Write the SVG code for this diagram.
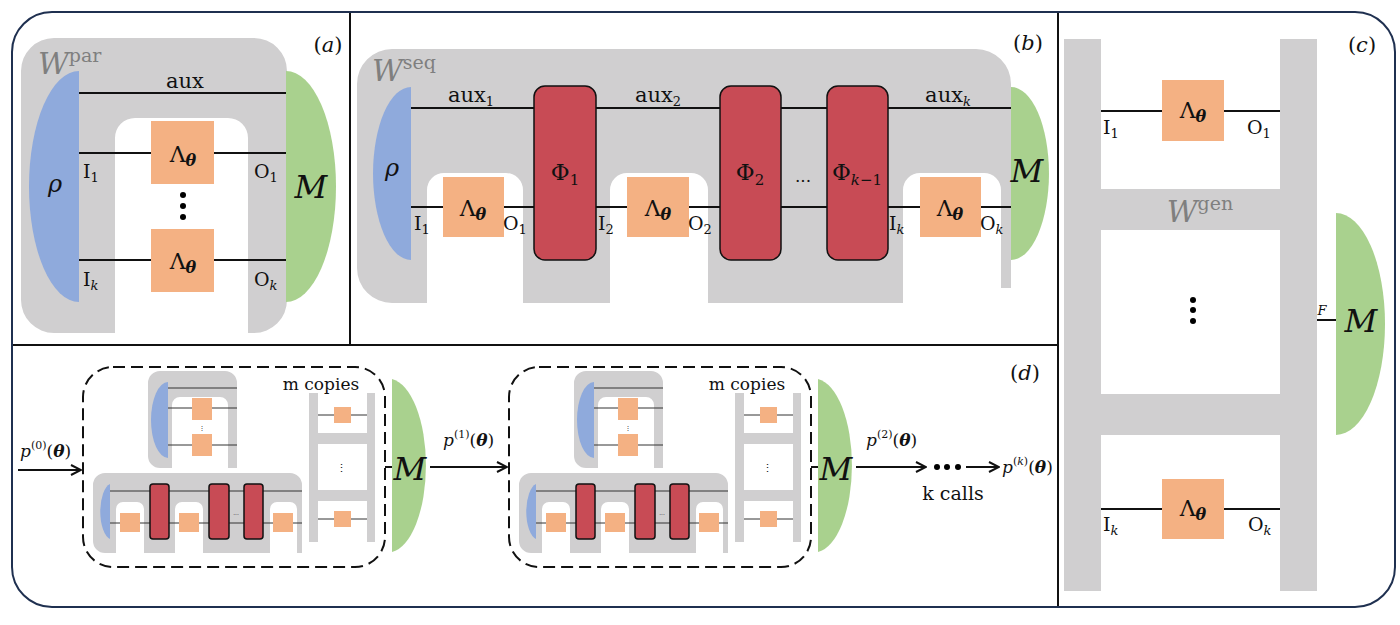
<svg xmlns="http://www.w3.org/2000/svg" xmlns:xlink="http://www.w3.org/1999/xlink" width="1400" height="625" viewBox="0 0 1400 625">
<style>
.g{fill:#d0cfd0}
.bl{fill:#8faadc}
.gr{fill:#a9d18e}
.or{fill:#f4b183}
.rd{fill:#c84b55;stroke:#111;stroke-width:1.5}
.w{stroke:#111;stroke-width:2;fill:none}
.wt{stroke:#333;stroke-width:1;fill:none}
.t{font-family:"DejaVu Serif","Liberation Serif",serif;fill:#111}
.i{font-style:italic}
.b{font-weight:bold;font-style:italic}
.W{font-family:"DejaVu Serif","Liberation Serif",serif;fill:#7f7f7f}
.fr{stroke:#111;stroke-width:2;fill:none}
</style>
<defs>
<marker id="ah" viewBox="0 0 12 12" refX="11" refY="6" markerWidth="12" markerHeight="12" markerUnits="userSpaceOnUse" orient="auto"><path d="M1,1 L11,6 L1,11" fill="none" stroke="#111" stroke-width="2"/></marker>
<g id="copy">
<rect x="83" y="367" width="302" height="200" rx="30" fill="none" stroke="#111" stroke-width="2" stroke-dasharray="12,6"/>
<path class="g" d="M148,383 A12,12 0 0 1 160,371 H225 A12,12 0 0 1 237,383 V468 H228 V405 A8,8 0 0 0 220,397 H180 A8,8 0 0 0 172,405 V468 H160 A12,12 0 0 1 148,456 Z"/>
<path class="bl" d="M168,382 A17,38 0 0 0 168,458 Z"/>
<path class="wt" d="M168,388 H237 M168,408 H237 M168,445 H237"/>
<rect class="or" x="192" y="398" width="20" height="22"/><rect class="or" x="192" y="434" width="20" height="22"/>
<text class="t" x="202" y="430" font-size="6" text-anchor="middle">⋮</text>
<path class="g" d="M93,485 A12,12 0 0 1 105,473 H290 A12,12 0 0 1 302,485 V553 H297 V509 A7,7 0 0 0 290,502 H277 A7,7 0 0 0 270,509 V553 H203 V509 A7,7 0 0 0 196,502 H182 A7,7 0 0 0 175,509 V553 H144 V509 A7,7 0 0 0 137,502 H123 A7,7 0 0 0 116,509 V553 H105 A12,12 0 0 1 93,541 Z"/>
<path class="bl" d="M110,484 A12,28 0 0 0 110,539 Z"/>
<path class="wt" d="M110,491 H302 M110,523 H302"/>
<rect class="rd" x="150" y="484" width="19" height="55" rx="3"/><rect class="rd" x="209" y="484" width="20" height="55" rx="3"/><rect class="rd" x="244" y="484" width="19" height="55" rx="3"/>
<rect class="or" x="120" y="513" width="20" height="19"/><rect class="or" x="179" y="513" width="20" height="19"/><rect class="or" x="273" y="513" width="20" height="19"/>
<text class="t" x="236" y="515" font-size="6" text-anchor="middle">...</text>
<rect class="g" x="309" y="393" width="9" height="149"/><rect class="g" x="367" y="393" width="8" height="149"/>
<rect class="g" x="318" y="433" width="49" height="11"/><rect class="g" x="318" y="490" width="49" height="11"/>
<path class="wt" d="M318,415 H367 M318,519 H367"/>
<rect class="or" x="334" y="407" width="17" height="16"/><rect class="or" x="334" y="511" width="17" height="16"/>
<text class="t" x="341" y="472" font-size="11" text-anchor="middle">⋮</text>
<text class="t" x="321" y="390" font-size="17" text-anchor="middle">m copies</text>
<path class="gr" d="M392,379 A38,87 0 0 1 392,552 Z"/>
<path class="w" d="M385,467 H392"/>
<text class="t i" x="410" y="480" font-size="32" text-anchor="middle">M</text>
</g>
</defs>
<rect x="12" y="12" width="1383" height="595" rx="40" fill="#fff" stroke="#1f3050" stroke-width="2"/>
<g id="frames"><path class="fr" d="M350,13 V345 M13,345 H1058 M1058,13 V606"/></g>
<g id="panel-a">
<path class="g" d="M21,71 A33,33 0 0 1 54,38 H254 A33,33 0 0 1 287,71 V300 A33,33 0 0 1 254,333 H248 V138 A20,20 0 0 0 228,118 H135 A20,20 0 0 0 115,138 V333 H54 A33,33 0 0 1 21,300 Z"/>
<text class="W i" x="38" y="74" font-size="30">W<tspan font-style="normal" font-size="19" dy="-12">par</tspan></text>
<path class="bl" d="M79,71 A50,115.5 0 0 0 79,302 Z"/>
<path class="gr" d="M286,71 A50,115.5 0 0 1 286,302 Z"/>
<path class="w" d="M79,93 H286 M79,153 H286 M79,260 H286"/>
<rect class="or" x="151" y="121" width="63" height="63"/><rect class="or" x="151" y="229" width="63" height="63"/>
<text class="t" x="183" y="162" font-size="22" text-anchor="middle">Λ<tspan class="b" font-size="16" dy="4">θ</tspan></text>
<text class="t" x="183" y="269" font-size="22" text-anchor="middle">Λ<tspan class="b" font-size="16" dy="4">θ</tspan></text>
<circle cx="183" cy="195" r="3"/><circle cx="183" cy="206" r="3"/><circle cx="183" cy="217" r="3"/>
<text class="t" x="185" y="88" font-size="21" text-anchor="middle">aux</text>
<text class="t" x="83" y="178" font-size="19">I<tspan font-size="13" dy="4">1</tspan></text>
<text class="t" x="83" y="286" font-size="19">I<tspan class="i" font-size="13" dy="4">k</tspan></text>
<text class="t" x="254" y="178" font-size="19">O<tspan font-size="13" dy="4">1</tspan></text>
<text class="t" x="254" y="286" font-size="19">O<tspan class="i" font-size="13" dy="4">k</tspan></text>
<text class="t i" x="55" y="192" font-size="24" text-anchor="middle">ρ</text>
<text class="t i" x="311" y="198" font-size="32" text-anchor="middle">M</text>
<text class="t" x="328" y="52" font-size="21" text-anchor="middle">(<tspan class="i">a</tspan>)</text>
</g>
<g id="panel-b">
<path class="g" d="M357,84 A35,35 0 0 1 392,49 H976 A35,35 0 0 1 1011,84 V288 H1001 V190 A17,17 0 0 0 984,173 H920 A17,17 0 0 0 903,190 V303 H708 V190 A17,17 0 0 0 691,173 H627 A17,17 0 0 0 610,190 V303 H523 V190 A17,17 0 0 0 506,173 H444 A17,17 0 0 0 427,190 V303 H392 A35,35 0 0 1 357,268 Z"/>
<text class="W i" x="372" y="81" font-size="30">W<tspan font-style="normal" font-size="19" dy="-12">seq</tspan></text>
<path class="bl" d="M411,87 A38,86.5 0 0 0 411,260 Z"/>
<path class="gr" d="M1011,87 A38,86.5 0 0 1 1011,260 Z"/>
<path class="w" d="M411,108 H1011 M411,207 H1011"/>
<rect class="rd" x="534" y="86" width="62" height="174" rx="11"/>
<rect class="rd" x="720" y="86" width="61" height="174" rx="11"/>
<rect class="rd" x="827" y="86" width="61" height="174" rx="11"/>
<rect class="or" x="443" y="177" width="61" height="60"/><rect class="or" x="627" y="177" width="62" height="60"/><rect class="or" x="920" y="177" width="61" height="60"/>
<text class="t" x="473" y="216" font-size="22" text-anchor="middle">Λ<tspan class="b" font-size="16" dy="4">θ</tspan></text>
<text class="t" x="658" y="216" font-size="22" text-anchor="middle">Λ<tspan class="b" font-size="16" dy="4">θ</tspan></text>
<text class="t" x="950" y="216" font-size="22" text-anchor="middle">Λ<tspan class="b" font-size="16" dy="4">θ</tspan></text>
<text class="t" x="565" y="180" font-size="23" text-anchor="middle">Φ<tspan font-size="15" dy="5">1</tspan></text>
<text class="t" x="750" y="180" font-size="23" text-anchor="middle">Φ<tspan font-size="15" dy="5">2</tspan></text>
<text class="t" x="857" y="180" font-size="23" text-anchor="middle">Φ<tspan font-size="15" dy="5"><tspan class="i">k</tspan>−1</tspan></text>
<text class="t" x="803" y="182" font-size="17" text-anchor="middle">...</text>
<text class="t" x="471" y="102" font-size="21" text-anchor="middle">aux<tspan font-size="13" dy="4">1</tspan></text>
<text class="t" x="658" y="102" font-size="21" text-anchor="middle">aux<tspan font-size="13" dy="4">2</tspan></text>
<text class="t" x="948" y="102" font-size="21" text-anchor="middle">aux<tspan class="i" font-size="13" dy="4">k</tspan></text>
<text class="t" x="414" y="230" font-size="19">I<tspan font-size="13" dy="4">1</tspan></text>
<text class="t" x="503" y="230" font-size="19">O<tspan font-size="13" dy="4">1</tspan></text>
<text class="t" x="598" y="230" font-size="19">I<tspan font-size="13" dy="4">2</tspan></text>
<text class="t" x="688" y="230" font-size="19">O<tspan font-size="13" dy="4">2</tspan></text>
<text class="t" x="889" y="230" font-size="19">I<tspan class="i" font-size="13" dy="4">k</tspan></text>
<text class="t" x="980" y="230" font-size="19">O<tspan class="i" font-size="13" dy="4">k</tspan></text>
<text class="t i" x="392" y="176" font-size="24" text-anchor="middle">ρ</text>
<text class="t i" x="1027" y="182" font-size="32" text-anchor="middle">M</text>
<text class="t" x="1028" y="50" font-size="21" text-anchor="middle">(<tspan class="i">b</tspan>)</text>
</g>
<g id="panel-c">
<rect class="g" x="1064" y="39" width="37" height="552"/><rect class="g" x="1280" y="39" width="37" height="552"/>
<rect class="g" x="1101" y="189" width="179" height="41"/><rect class="g" x="1101" y="394" width="179" height="41"/>
<text class="W i" x="1200" y="222" font-size="30" text-anchor="middle">W<tspan font-style="normal" font-size="19" dy="-12">gen</tspan></text>
<path class="w" d="M1101,111 H1280 M1101,509 H1280 M1317,320 H1336"/>
<rect class="or" x="1162" y="80" width="62" height="61"/><rect class="or" x="1162" y="479" width="62" height="60"/>
<text class="t" x="1193" y="118" font-size="22" text-anchor="middle">Λ<tspan class="b" font-size="16" dy="4">θ</tspan></text>
<text class="t" x="1193" y="516" font-size="22" text-anchor="middle">Λ<tspan class="b" font-size="16" dy="4">θ</tspan></text>
<circle cx="1193" cy="300" r="3"/><circle cx="1193" cy="310" r="3"/><circle cx="1193" cy="321" r="3"/>
<path class="gr" d="M1336,213 A49,111 0 0 1 1336,435 Z"/>
<text class="t i" x="1361" y="332" font-size="32" text-anchor="middle">M</text>
<text class="t i" x="1322" y="315" font-size="13" text-anchor="middle">F</text>
<text class="t" x="1103" y="134" font-size="19">I<tspan font-size="13" dy="4">1</tspan></text>
<text class="t" x="1247" y="134" font-size="19">O<tspan font-size="13" dy="4">1</tspan></text>
<text class="t" x="1103" y="531" font-size="19">I<tspan class="i" font-size="13" dy="4">k</tspan></text>
<text class="t" x="1248" y="531" font-size="19">O<tspan class="i" font-size="13" dy="4">k</tspan></text>
<text class="t" x="1362" y="52" font-size="21" text-anchor="middle">(<tspan class="i">c</tspan>)</text>
</g>
<g id="panel-d">
<g id="copy1"><use xlink:href="#copy" href="#copy"/></g>
<g id="copy2"><use xlink:href="#copy" href="#copy" x="426"/></g>
<text class="t" x="1025" y="380" font-size="21" text-anchor="middle">(<tspan class="i">d</tspan>)</text>
<text class="t" x="20" y="457" font-size="17"><tspan class="i">p</tspan><tspan font-size="11" dy="-8">(0)</tspan><tspan dy="8">(</tspan><tspan class="b">θ</tspan>)</text>
<text class="t" x="443" y="446" font-size="17"><tspan class="i">p</tspan><tspan font-size="11" dy="-8">(1)</tspan><tspan dy="8">(</tspan><tspan class="b">θ</tspan>)</text>
<text class="t" x="866" y="446" font-size="17"><tspan class="i">p</tspan><tspan font-size="11" dy="-8">(2)</tspan><tspan dy="8">(</tspan><tspan class="b">θ</tspan>)</text>
<text class="t" x="1002" y="473" font-size="17"><tspan class="i">p</tspan><tspan font-size="11" dy="-8">(</tspan><tspan class="i" font-size="11">k</tspan><tspan font-size="11">)</tspan><tspan dy="8">(</tspan><tspan class="b">θ</tspan>)</text>
<circle cx="937" cy="467" r="3"/><circle cx="947" cy="467" r="3"/><circle cx="958" cy="467" r="3"/>
<text class="t" x="953" y="500" font-size="19" text-anchor="middle">k calls</text>
</g>
<g id="connectors">
<path class="w" d="M18,470 H81" marker-end="url(#ah)"/>
<path class="w" d="M430,467 H507" marker-end="url(#ah)"/>
<path class="w" d="M856,467 H926" marker-end="url(#ah)"/>
<path class="w" d="M966,467 H999" marker-end="url(#ah)"/>
</g>
</svg>
